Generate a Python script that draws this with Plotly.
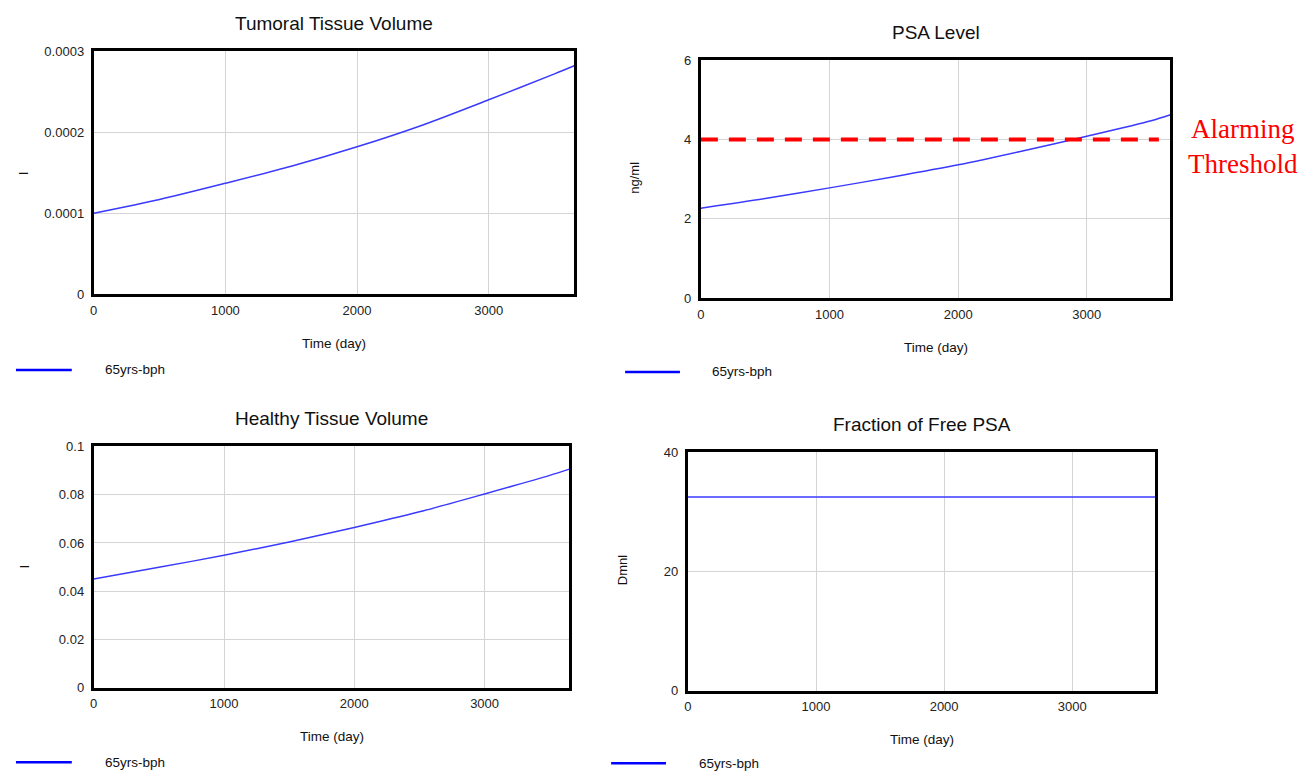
import plotly.graph_objects as go

W, H = 1315, 784

# ---------------- data ----------------
time_days = [0, 500, 1000, 1500, 2000, 2500, 3000, 3500, 3650]
tumoral_volume = [1.00e-4, 1.17e-4, 1.37e-4, 1.58e-4, 1.82e-4, 2.09e-4, 2.40e-4, 2.72e-4, 2.82e-4]
healthy_volume = [0.0451, 0.0499, 0.0549, 0.0604, 0.0664, 0.0729, 0.0803, 0.0880, 0.0906]
psa_level = [2.27, 2.51, 2.78, 3.06, 3.36, 3.71, 4.08, 4.47, 4.62]
free_psa_fraction = [32.5, 32.5, 32.5, 32.5, 32.5, 32.5, 32.5, 32.5, 32.5]
threshold_time = [0, 3560]
threshold_level = [4, 4]

x_ticks = [0, 1000, 2000, 3000]
x_tick_labels = ["0", "1000", "2000", "3000"]
tumoral_ticks = [0, 0.0001, 0.0002, 0.0003]
tumoral_tick_labels = ["0", "0.0001", "0.0002", "0.0003"]
psa_ticks = [0, 2, 4, 6]
psa_tick_labels = ["0", "2", "4", "6"]
healthy_ticks = [0, 0.02, 0.04, 0.06, 0.08, 0.1]
healthy_tick_labels = ["0", "0.02", "0.04", "0.06", "0.08", "0.1"]
free_ticks = [0, 20, 40]
free_tick_labels = ["0", "20", "40"]

series_name = "65yrs-bph"
titles = ["Tumoral Tissue Volume", "PSA Level", "Healthy Tissue Volume", "Fraction of Free PSA"]
y_units = ["l", "ng/ml", "l", "Dmnl"]
x_title = "Time (day)"

# ---------------- layout helpers ----------------
def px(x):
    return x / W

def py(y):
    return 1 - y / H

FONT = "Liberation Sans, Arial, sans-serif"
CURVE = "#3a3aff"
GRID = "#d4d4d4"

# frame boxes (left, right, top, bottom) in pixels
boxes = [
    (90, 572, 45, 293),
    (699, 1170, 54, 297),
    (90, 567, 448, 694),
    (686, 1155, 454, 697),
]

fig = go.Figure()

ys = [tumoral_volume, psa_level, healthy_volume, free_psa_fraction]
for i, yv in enumerate(ys):
    sfx = "" if i == 0 else str(i + 1)
    fig.add_trace(go.Scatter(x=time_days, y=yv, mode="lines", name=series_name,
                             line=dict(color=CURVE, width=1.5, shape="spline", smoothing=0.8),
                             xaxis="x" + sfx, yaxis="y" + sfx, showlegend=False))

fig.add_trace(go.Scatter(x=threshold_time, y=threshold_level, mode="lines",
                         line=dict(color="#ff0000", width=4, dash="17px,11px"),
                         xaxis="x2", yaxis="y2", showlegend=False))

yticks = [(tumoral_ticks, tumoral_tick_labels, [0, 0.0003]),
          (psa_ticks, psa_tick_labels, [0, 6]),
          (healthy_ticks, healthy_tick_labels, [0, 0.1]),
          (free_ticks, free_tick_labels, [0, 40])]

layout = dict(width=W, height=H, margin=dict(l=0, r=0, t=0, b=0),
              plot_bgcolor="white", paper_bgcolor="white", showlegend=False)

annotations = []
shapes = []
for i, (l, r, t, b) in enumerate(boxes):
    sfx = "" if i == 0 else str(i + 1)
    tv, tt, rng = yticks[i]
    layout["xaxis" + sfx] = dict(domain=[px(l), px(r)], range=[0, 3650], anchor="y" + sfx,
                                 tickvals=x_ticks, ticktext=x_tick_labels,
                                 showgrid=True, gridcolor=GRID, gridwidth=1, zeroline=False,
                                 showline=True, linecolor="black", linewidth=3, mirror=True,
                                 ticks="", ticklabelstandoff=2,
                                 tickfont=dict(family=FONT, size=13, color="#222"))
    layout["yaxis" + sfx] = dict(domain=[py(b), py(t)], range=rng, anchor="x" + sfx,
                                 tickvals=tv, ticktext=tt,
                                 showgrid=True, gridcolor=GRID, gridwidth=1, zeroline=False,
                                 showline=True, linecolor="black", linewidth=3, mirror=True,
                                 ticks="", ticklabelstandoff=4,
                                 tickfont=dict(family=FONT, size=13, color="#222"))
    cx = (l + r) / 2
    # title
    annotations.append(dict(text=titles[i], x=px(cx), y=py(t - 28), xref="paper", yref="paper",
                            showarrow=False, font=dict(family=FONT, size=19, color="#111"),
                            xanchor="center", yanchor="middle"))
    # x axis title
    annotations.append(dict(text=x_title, x=px(cx), y=py(b + 50), xref="paper", yref="paper",
                            showarrow=False, font=dict(family=FONT, size=13.5, color="#111"),
                            xanchor="center", yanchor="middle"))

# y unit labels
unit_pos = [(20, 169), (633, 174), (20, 570), (620, 574)]
for i, (ux, uy) in enumerate(unit_pos):
    annotations.append(dict(text=y_units[i], x=px(ux), y=py(uy), xref="paper", yref="paper",
                            showarrow=False, textangle=-90,
                            font=dict(family=FONT, size=13, color="#111"),
                            xanchor="center", yanchor="middle"))

# legends: sample line + label
legend_pos = [(12, 68, 370, 99), (623, 678, 372, 708), (12, 68, 770, 99), (609, 664, 771, 695)]
for (x0, x1, ly, tx) in legend_pos:
    shapes.append(dict(type="line", xref="paper", yref="paper", x0=px(x0), x1=px(x1),
                       y0=py(ly), y1=py(ly), line=dict(color="#0000ff", width=2.5)))
    annotations.append(dict(text=series_name, x=px(tx), y=py(ly), xref="paper", yref="paper",
                            showarrow=False, font=dict(family=FONT, size=13.5, color="#111"),
                            xanchor="left", yanchor="middle"))

# red annotation
annotations.append(dict(text="Alarming<br>Threshold", x=px(1243), y=py(142), xref="paper", yref="paper",
                        showarrow=False, font=dict(family="Liberation Serif, Times New Roman, serif",
                                                   size=27, color="#ff0000"),
                        xanchor="center", yanchor="middle", align="center"))

layout["annotations"] = annotations
layout["shapes"] = shapes
fig.update_layout(**layout)

fig.write_html("out.html", config={"displayModeBar": False},
               post_script="document.body.style.margin='0';")
